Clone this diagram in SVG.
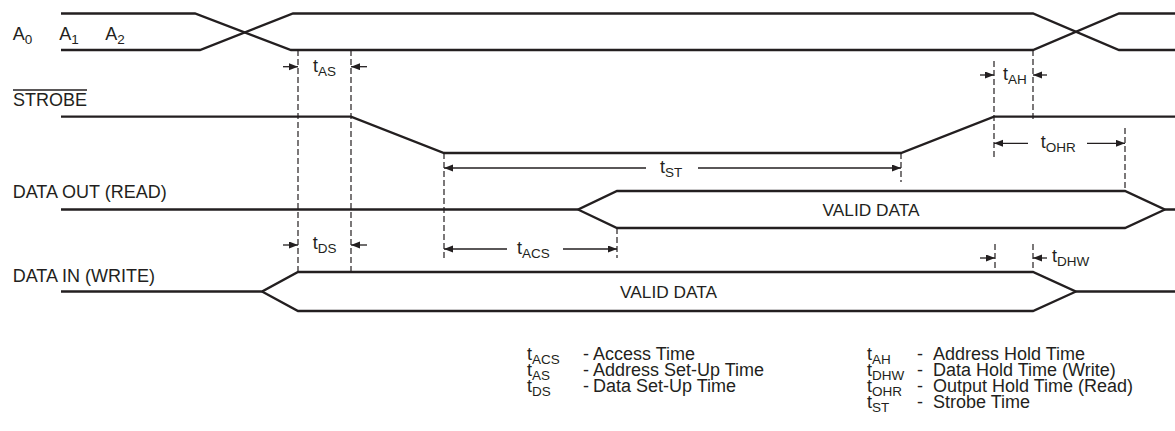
<svg xmlns="http://www.w3.org/2000/svg" width="1175" height="431" viewBox="0 0 1175 431">
<defs>
<marker id="ah" markerUnits="userSpaceOnUse" markerWidth="10" markerHeight="8" refX="9" refY="3.5" orient="auto">
<path d="M0,0 L9,3.5 L0,7 z" fill="#231f20"/>
</marker>
<style>
.sig{fill:none;stroke:#231f20;stroke-width:2.3;stroke-linejoin:miter}
.dash{fill:none;stroke:#231f20;stroke-width:1.2;stroke-dasharray:6 3}
.dim{fill:none;stroke:#231f20;stroke-width:1.3;marker-end:url(#ah)}
.t{font-family:"Liberation Sans",Arial,sans-serif;font-size:18px;fill:#231f20}
.v{font-size:17.3px}
.s{font-size:13.5px}
</style>
</defs>
<rect width="1175" height="431" fill="#ffffff"/>

<g id="address">
<path class="sig" d="M61,13.5 H195 L291,50 H1033 L1119,13.5 H1175"/>
<path class="sig" d="M61,50 H200 L293,13.5 H1033 L1119,50 H1175"/>
<text class="t" x="12.7" y="40">A<tspan class="s" dy="3.5">0</tspan></text>
<text class="t" x="59.3" y="40">A<tspan class="s" dy="3.5">1</tspan></text>
<text class="t" x="105.3" y="40">A<tspan class="s" dy="3.5">2</tspan></text>
</g>

<g id="strobe">
<path class="sig" d="M61,116.7 H351 L444,153 H901 L994,116.7 H1175"/>
<text class="t" x="13" y="106">STROBE</text>
<line x1="13" y1="90" x2="87" y2="90" stroke="#231f20" stroke-width="1.3"/>
</g>

<g id="data-out">
<path class="sig" d="M61,209.5 H578 L617,191 H1125 L1165,209.5 H1175"/>
<path class="sig" d="M578,209.5 L617,228 H1125 L1165,209.5"/>
<text class="t" x="12.7" y="198">DATA OUT (READ)</text>
<text class="t v" x="871" y="216" text-anchor="middle">VALID DATA</text>
</g>

<g id="data-in">
<path class="sig" d="M61,291.5 H262 L298,272 H1033 L1076,291.5 H1175"/>
<path class="sig" d="M262,291.5 L298,311 H1033 L1076,291.5"/>
<text class="t" x="12.7" y="281.7">DATA IN (WRITE)</text>
<text class="t v" x="668.5" y="298" text-anchor="middle">VALID DATA</text>
</g>

<g id="connectors">
<line class="dash" x1="298" y1="50" x2="298" y2="272"/>
<line class="dash" x1="351" y1="50" x2="351" y2="272"/>
<line class="dash" x1="444" y1="153" x2="444" y2="258"/>
<line class="dash" x1="617" y1="228" x2="617" y2="258"/>
<line class="dash" x1="901" y1="153" x2="901" y2="182"/>
<line class="dash" x1="994" y1="61" x2="994" y2="157"/>
<line class="dash" x1="1033" y1="50" x2="1033" y2="122"/>
<line class="dash" x1="1125" y1="128" x2="1125" y2="191"/>
<line class="dash" x1="995" y1="244" x2="995" y2="272"/>
<line class="dash" x1="1033" y1="244" x2="1033" y2="272"/>

<line class="dim" x1="283" y1="66.7" x2="298" y2="66.7"/>
<line class="dim" x1="367" y1="66.7" x2="351" y2="66.7"/>
<line class="dim" x1="980" y1="75" x2="994" y2="75"/>
<line class="dim" x1="1047" y1="75" x2="1033" y2="75"/>
<line class="dim" x1="1028" y1="143.3" x2="994" y2="143.3"/>
<line class="dim" x1="1087" y1="143.3" x2="1125" y2="143.3"/>
<line class="dim" x1="646" y1="168" x2="444" y2="168"/>
<line class="dim" x1="698" y1="168" x2="901" y2="168"/>
<line class="dim" x1="283" y1="245" x2="298" y2="245"/>
<line class="dim" x1="367" y1="245" x2="351" y2="245"/>
<line class="dim" x1="507" y1="249" x2="444" y2="249"/>
<line class="dim" x1="563" y1="249" x2="617" y2="249"/>
<line class="dim" x1="980" y1="258" x2="995" y2="258"/>
<line class="dim" x1="1047" y1="258" x2="1033" y2="258"/>
</g>

<g id="timing-labels">
<text class="t" x="313" y="72">t<tspan class="s" dy="4">AS</tspan></text>
<text class="t" x="1003" y="80">t<tspan class="s" dy="4">AH</tspan></text>
<text class="t" x="1040.7" y="148">t<tspan class="s" dy="4">OHR</tspan></text>
<text class="t" x="660" y="173">t<tspan class="s" dy="4">ST</tspan></text>
<text class="t" x="312.7" y="249">t<tspan class="s" dy="4">DS</tspan></text>
<text class="t" x="517" y="254">t<tspan class="s" dy="4">ACS</tspan></text>
<text class="t" x="1052" y="262">t<tspan class="s" dy="4">DHW</tspan></text>
</g>

<g id="legend">
<text class="t" x="527" y="360">t<tspan class="s" dy="3.5">ACS</tspan></text>
<text class="t" x="583" y="360">-</text>
<text class="t" x="593" y="360">Access Time</text>
<text class="t" x="527" y="376">t<tspan class="s" dy="3.5">AS</tspan></text>
<text class="t" x="583" y="376">-</text>
<text class="t" x="593" y="376">Address Set-Up Time</text>
<text class="t" x="527" y="392">t<tspan class="s" dy="3.5">DS</tspan></text>
<text class="t" x="583" y="392">-</text>
<text class="t" x="593" y="392">Data Set-Up Time</text>

<text class="t" x="867" y="360">t<tspan class="s" dy="3.5">AH</tspan></text>
<text class="t" x="917" y="360">-</text>
<text class="t" x="933" y="360">Address Hold Time</text>
<text class="t" x="867" y="376">t<tspan class="s" dy="3.5">DHW</tspan></text>
<text class="t" x="917" y="376">-</text>
<text class="t" x="933" y="376">Data Hold Time (Write)</text>
<text class="t" x="867" y="392">t<tspan class="s" dy="3.5">OHR</tspan></text>
<text class="t" x="917" y="392">-</text>
<text class="t" x="933" y="392">Output Hold Time (Read)</text>
<text class="t" x="867" y="408">t<tspan class="s" dy="3.5">ST</tspan></text>
<text class="t" x="917" y="408">-</text>
<text class="t" x="933" y="408">Strobe Time</text>
</g>
</svg>
